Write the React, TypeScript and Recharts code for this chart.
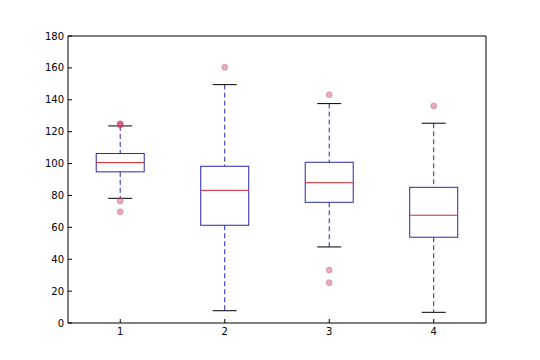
import { ComposedChart, Bar, XAxis, YAxis } from "recharts"

const categories = ["1", "2", "3", "4"]
const whiskerLow = [78.2, 7.7, 47.7, 6.7]
const q1 = [94.8, 61.3, 75.7, 53.8]
const median = [100.6, 83.2, 88.0, 67.6]
const q3 = [106.3, 98.3, 100.8, 85.1]
const whiskerHigh = [123.6, 149.5, 137.6, 125.3]
const outliers = [
  [124.0, 124.6, 125.0, 76.5, 69.8],
  [160.4],
  [143.2, 33.2, 25.3],
  [136.1],
]
const yTicks = [0, 20, 40, 60, 80, 100, 120, 140, 160, 180]

const data = categories.map((name, i) => ({
  name,
  range: [whiskerLow[i], whiskerHigh[i]],
  q1: q1[i],
  median: median[i],
  q3: q3[i],
  low: whiskerLow[i],
  high: whiskerHigh[i],
  outliers: outliers[i],
}))

const BLUE = "#2828b0"
const RED = "#d42030"

const BoxShape = (props: any) => {
  const { x, y, width, height, payload } = props
  const { low, high } = payload
  // map a value onto the same pixels the bar got from the y scale
  const py = (v: number) => y + ((high - v) / (high - low)) * height
  const cx = x + width / 2
  const capHalf = width / 4
  return (
    <g>
      <line x1={cx} x2={cx} y1={py(high)} y2={py(payload.q3)} stroke={BLUE} strokeDasharray="5 3" />
      <line x1={cx} x2={cx} y1={py(payload.q1)} y2={py(low)} stroke={BLUE} strokeDasharray="5 3" />
      <line x1={cx - capHalf} x2={cx + capHalf} y1={py(high)} y2={py(high)} stroke="#000" />
      <line x1={cx - capHalf} x2={cx + capHalf} y1={py(low)} y2={py(low)} stroke="#000" />
      <rect
        x={x}
        y={py(payload.q3)}
        width={width}
        height={py(payload.q1) - py(payload.q3)}
        fill="none"
        stroke={BLUE}
      />
      <line x1={x} x2={x + width} y1={py(payload.median)} y2={py(payload.median)} stroke={RED} />
      {payload.outliers.map((v: number, i: number) => (
        <circle
          key={i}
          cx={cx}
          cy={py(v)}
          r={3}
          fill="rgba(200,70,110,0.45)"
          stroke="rgba(200,70,110,0.35)"
        />
      ))}
    </g>
  )
}

const tickStyle = { fontFamily: "DejaVu Sans", fontSize: 10, fill: "#000" }

export default function App() {
  return (
    <div style={{ position: "absolute", left: 0, top: 0, background: "#fff" }}>
      <ComposedChart
        width={540}
        height={360}
        data={data}
        margin={{ top: 35, right: 53, bottom: 0, left: 0 }}
        barCategoryGap="27%"
      >
        <XAxis
          dataKey="name"
          height={37}
          axisLine={{ stroke: "#000" }}
          tickLine={{ stroke: "#000" }}
          tickSize={-4}
          tickMargin={9}
          tick={tickStyle}
        />
        <XAxis
          xAxisId="top"
          dataKey="name"
          orientation="top"
          height={1}
          axisLine={{ stroke: "#000" }}
          tickLine={{ stroke: "#000" }}
          tickSize={-4}
          tick={false}
        />
        <YAxis
          domain={[0, 180]}
          ticks={yTicks}
          width={68}
          axisLine={{ stroke: "#000" }}
          tickLine={{ stroke: "#000" }}
          tickSize={-4}
          tickMargin={8}
          tick={tickStyle}
          allowDataOverflow
        />
        <YAxis
          yAxisId="right"
          orientation="right"
          domain={[0, 180]}
          ticks={yTicks}
          width={1}
          axisLine={{ stroke: "#000" }}
          tickLine={{ stroke: "#000" }}
          tickSize={-4}
          tick={false}
        />
        <Bar dataKey="range" shape={BoxShape} isAnimationActive={false} />
      </ComposedChart>
    </div>
  )
}
